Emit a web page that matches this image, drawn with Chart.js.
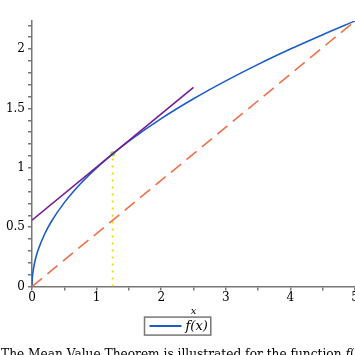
<!DOCTYPE html>
<html>
<head>
<meta charset="utf-8">
<script src="https://cdn.jsdelivr.net/npm/chart.js@4.4.0/dist/chart.umd.min.js"></script>
<style>
  html, body { margin: 0; padding: 0; background: #fff; overflow: hidden; width: 355px; height: 355px; }
  #wrap { position: absolute; left: 0; top: 0; width: 360px; height: 355px; }
  #caption { position: absolute; left: 1px; top: 347px; white-space: nowrap;
             font-family: 'DejaVu Serif', serif; font-size: 12.2px; color: #000; }
</style>
</head>
<body>
<div id="wrap"><canvas id="c"></canvas></div>
<div id="caption">The Mean Value Theorem is illustrated for the function <i>f</i>(<i>x</i>) = √<i>x</i></div>
<script>
// f(x) curve
const curveX = [0, 0.002, 0.01, 0.02, 0.05, 0.1, 0.2, 0.3, 0.5, 0.75, 1, 1.25, 1.5, 2, 2.5, 3, 3.5, 4, 4.5, 5];
const curveY = [0, 0.045, 0.1, 0.141, 0.224, 0.316, 0.447, 0.548, 0.707, 0.866, 1, 1.118, 1.225, 1.414, 1.581, 1.732, 1.871, 2, 2.121, 2.236];
// tangent line at c
const tangentX = [0, 2.5];
const tangentY = [0.559, 1.677];
// secant line through endpoints
const secantX = [0, 5];
const secantY = [0, 2.236];
// vertical marker at c
const markerX = [1.25, 1.25];
const markerY = [0, 1.118];
// tangent point
const pointX = [1.25];
const pointY = [1.118];
// axis ticks
const xTickLabels = [0, 1, 2, 3, 4, 5];
const yTickLabels = [0, 0.5, 1, 1.5, 2];
const legendLabel = 'f(x)';

const pts = (xs, ys) => xs.map((x, i) => ({x: x, y: ys[i]}));
const SERIF = "'DejaVu Serif', serif";

// Boxed legend drawn under the x-axis title, centred on the page
const boxedLegend = {
  id: 'boxedLegend',
  afterDraw(chart) {
    const ctx = chart.ctx, ca = chart.chartArea;
    const ds = chart.data.datasets.find(d => d.label === legendLabel);
    ctx.save();
    ctx.font = "italic 13px 'DejaVu Serif', serif";
    const tw = ctx.measureText(legendLabel).width;
    const lineLen = 32, gap = 4, padL = 5, padR = 3;
    const w = padL + lineLen + gap + tw + padR, h = 18;
    const cx = 355 / 2;
    const left = Math.round(cx - w / 2) + 0.5;
    const top = ca.bottom + 30.5;
    ctx.strokeStyle = '#777';
    ctx.lineWidth = 1.5;
    ctx.strokeRect(left, top, w, h);
    ctx.strokeStyle = ds.borderColor;
    ctx.lineWidth = 2;
    ctx.beginPath();
    ctx.moveTo(left + padL, top + h / 2);
    ctx.lineTo(left + padL + lineLen, top + h / 2);
    ctx.stroke();
    ctx.fillStyle = '#000';
    ctx.textBaseline = 'middle';
    ctx.textAlign = 'left';
    ctx.fillText(legendLabel, left + padL + lineLen + gap, top + h / 2 + 0.5);
    ctx.restore();
  }
};

new Chart(document.getElementById('c'), {
  type: 'line',
  data: {
    datasets: [
      { label: 'secant', data: pts(secantX, secantY), borderColor: '#f0704a', borderWidth: 1.6,
        borderDash: [13, 7], pointRadius: 0, tension: 0 },
      { label: 'marker', data: pts(markerX, markerY), borderColor: '#f0e000', borderWidth: 2,
        borderDash: [2, 5], pointRadius: 0, tension: 0 },
      { label: 'tangent', data: pts(tangentX, tangentY), borderColor: '#751a96', borderWidth: 1.6,
        pointRadius: 0, tension: 0 },
      { label: legendLabel, data: pts(curveX, curveY), borderColor: '#1a5cc8', backgroundColor: '#1a5cc8',
        borderWidth: 1.6, pointRadius: 0, cubicInterpolationMode: 'monotone' },
      { label: 'point', data: pts(pointX, pointY), borderColor: '#9be060', backgroundColor: '#9be060',
        pointRadius: 2.2, showLine: false }
    ]
  },
  options: {
    responsive: true,
    maintainAspectRatio: false,
    animation: false,
    layout: { padding: { top: 21, left: 0, right: 0, bottom: 38 } },
    plugins: {
      tooltip: { enabled: false },
      legend: { display: false }
    },
    scales: {
      x: {
        type: 'linear', min: 0, max: 5,
        afterFit: (s) => { s.paddingRight = 0; s.paddingLeft = 0; },
        afterBuildTicks: (s) => { s.ticks = [0,0.5,1,1.5,2,2.5,3,3.5,4,4.5,5].map(v => ({value: v})); },
        ticks: {
          autoSkip: false, maxRotation: 0, padding: 0, color: '#000',
          font: { family: SERIF, size: 12 },
          callback: (v) => xTickLabels.includes(v) ? String(v) : ''
        },
        grid: { drawOnChartArea: false, drawTicks: true, tickLength: 4, color: '#777', lineWidth: 1.5 },
        border: { color: '#777', width: 1.5 },
        title: { display: true, text: 'x', color: '#000', padding: { top: 0, bottom: 0 },
                 font: { family: SERIF, size: 10, style: 'italic' } }
      },
      y: {
        type: 'linear', min: 0, max: 2.236,
        afterFit: (s) => { s.width = 32; s.paddingTop = 0; s.paddingBottom = 0; },
        afterBuildTicks: (s) => { const t = []; for (let i = 0; i <= 22; i++) t.push({value: i / 10}); s.ticks = t; },
        ticks: {
          autoSkip: false, padding: 3, color: '#000',
          font: { family: SERIF, size: 12 },
          callback: (v) => { const r = Math.round(v * 10) / 10; return yTickLabels.includes(r) ? String(r) : ''; }
        },
        grid: { drawOnChartArea: false, drawTicks: true, tickLength: 4, color: '#777', lineWidth: 1.5 },
        border: { color: '#777', width: 1.5 }
      }
    }
  },
  plugins: [boxedLegend]
});
</script>
</body>
</html>
